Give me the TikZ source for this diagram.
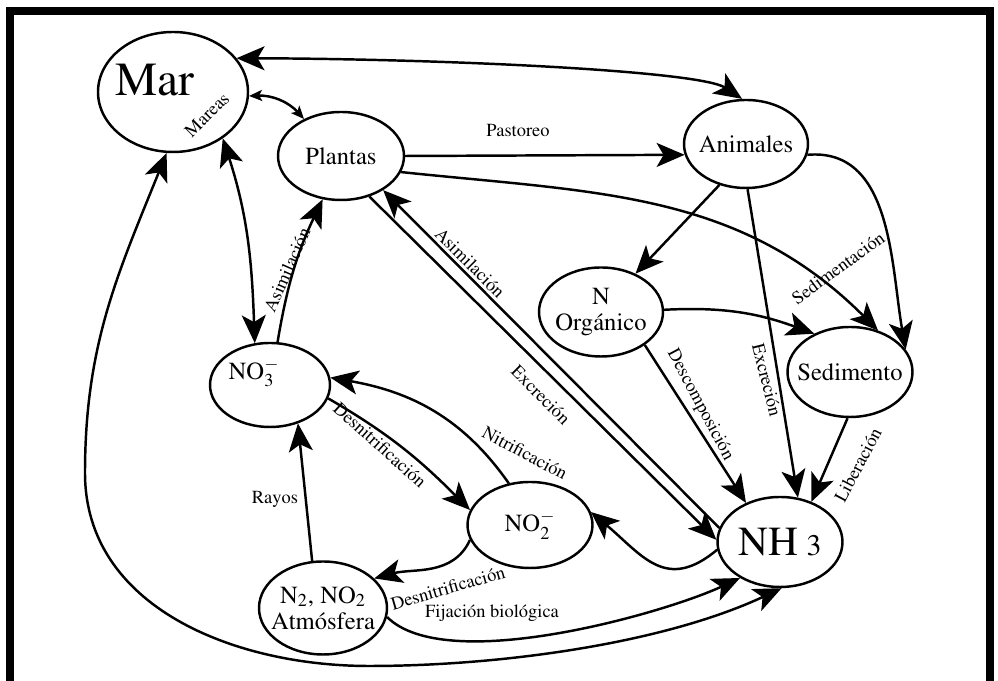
\documentclass[tikz,border=0pt]{standalone}
\usepackage[T1]{fontenc}
\usepackage{mathptmx}
\usepackage{xcolor}
\usepackage{tikz}
\usetikzlibrary{arrows.meta,shapes.geometric}
\definecolor{ink}{RGB}{0,0,0}
\tikzset{
  pool/.style={draw=ink,ellipse,line width=1.4pt,inner sep=-6pt,align=center,font=\fontsize{14}{15}\selectfont},
  flux/.style={-{Stealth[length=5.6mm,width=4.8mm,inset=1.4mm]},line width=1.4pt,draw=ink},
  exchange/.style={{Stealth[length=5.6mm,width=4.8mm,inset=1.4mm]}-{Stealth[length=5.6mm,width=4.8mm,inset=1.4mm]},line width=1.4pt,draw=ink},
  tide/.style={{Stealth[length=2.6mm,width=2.2mm,inset=0.6mm]}-{Stealth[length=2.6mm,width=2.2mm,inset=0.6mm]},line width=1.4pt,draw=ink},
  tag/.style={font=\fontsize{10.5}{12}\selectfont,inner sep=1pt,text=ink},
  frame/.style={line width=1.6mm,draw=ink}
}
\begin{document}
\begin{tikzpicture}[x=0.2mm,y=0.2mm]
  \useasboundingbox (0,0) rectangle (998,681);
  \draw[frame] (10,0) -- (10,670) -- (990,670) -- (990,0);
  \node[pool,minimum width=3cm,minimum height=2.4cm,label={[font=\fontsize{27}{30}\selectfont,xshift=-3.6mm,yshift=2.4mm]center:Mar}] (mar) at (173,589) {};
  \node[pool,minimum width=2.52cm,minimum height=1.76cm] (plantas) at (341,525) {Plantas};
  \node[pool,minimum width=2.48cm,minimum height=1.76cm] (animales) at (746,537) {Animales};
  \node[pool,minimum width=2.48cm,minimum height=1.78cm] (norg) at (601,369) {N\\Orgánico};
  \node[pool,minimum width=2.5cm,minimum height=1.8cm] (sedimento) at (850,309) {Sedimento};
  \node[pool,minimum width=2.4cm,minimum height=1.68cm,label={[font=\fontsize{14}{15}\selectfont,xshift=-3.2mm,yshift=2.4mm]center:NO$^{-}_{3}$}] (nitrato) at (270,296) {};
  \node[pool,minimum width=2.5cm,minimum height=1.72cm] (nitrito) at (530,156) {NO$^{-}_{2}$};
  \node[pool,minimum width=2.5cm,minimum height=1.8cm] (amonio) at (780,139) {\fontsize{23.5}{26}\selectfont NH\hspace{5pt}{\fontsize{17}{18}\selectfont 3}};
  \node[pool,minimum width=2.56cm,minimum height=1.86cm] (atmosfera) at (323,73) {N\textsubscript{2}, NO\textsubscript{2}\\Atmósfera};
  \draw[exchange] (mar.28) .. controls (450,622) and (700,610) .. (animales.95);
  \draw[tide] (mar.-3) to[bend left=25] (plantas.135);
  \draw[exchange] (mar.-43) to[out=-72,in=92] (nitrato.110);
  \draw[flux] (nitrato.80) to[bend left=8] (plantas.-113);
  \draw[flux] (plantas.0) -- (animales.190);
  \draw[flux] (plantas.-15) to[out=-6,in=135] (sedimento.56);
  \draw[flux] (animales.-10) to[out=5,in=100] (sedimento.22);
  \draw[flux] (animales.-123) -- (norg.48);
  \draw[flux] (animales.-88) -- (amonio.68);
  \draw[flux] (norg.2) to[out=3,in=160] (sedimento.133);
  \draw[flux] (norg.-37) -- (amonio.131);
  \draw[flux] (sedimento.-93) -- (amonio.52);
  \draw[flux] (amonio.167) -- (plantas.-39);
  \draw[flux] (plantas.-55) -- (amonio.178);
  \draw[flux] (nitrito.117) to[out=125,in=-10] (nitrato.7);
  \draw[flux] (nitrato.-13) to[out=-30,in=135] (nitrito.166);
  \draw[flux] (amonio.187) to[out=-140,in=-40,looseness=1.3] (nitrito.12);
  \draw[flux] (nitrito.194) to[out=-115,in=15] (atmosfera.30);
  \draw[flux] (atmosfera.103) -- (nitrato.-54);
  \draw[flux] (atmosfera.-8) to[out=-45,in=-155,looseness=0.6] (amonio.222);
  \draw[exchange] (mar.-96) to[out=-112,in=90] (85,208) to[out=-90,in=180] (369,15) to[out=0,in=-155,looseness=0.8] (amonio.-88);
  \node[tag,rotate=45] (mareas) at (207,566) {Mareas};
  \node[tag] (pastoreo) at (518,550) {Pastoreo};
  \node[tag,rotate=-45] (asimA) at (470,418) {Asimilación};
  \node[tag,rotate=-45] (excrA) at (541,286) {Excreción};
  \node[tag,rotate=66] (asimB) at (287,411) {Asimilación};
  \node[tag,rotate=36] (sedim) at (838,413) {Sedimentación};
  \node[tag,rotate=-76] (excrB) at (767,301) {Excreción};
  \node[tag,rotate=-62] (descomp) at (700,276) {Descomposición};
  \node[tag,rotate=62] (liber) at (858,216) {Liberación};
  \node[tag,rotate=-28] (nitrif) at (525,228) {Nitrificación};
  \node[tag,rotate=-42] (desnA) at (380,236) {Desnitrificación};
  \node[tag,rotate=16] (desnB) at (448,93) {Desnitrificación};
  \node[tag] (rayos) at (275,181) {Rayos};
  \node[tag] (fijacion) at (492,68) {Fijación biológica};
\end{tikzpicture}
\end{document}
